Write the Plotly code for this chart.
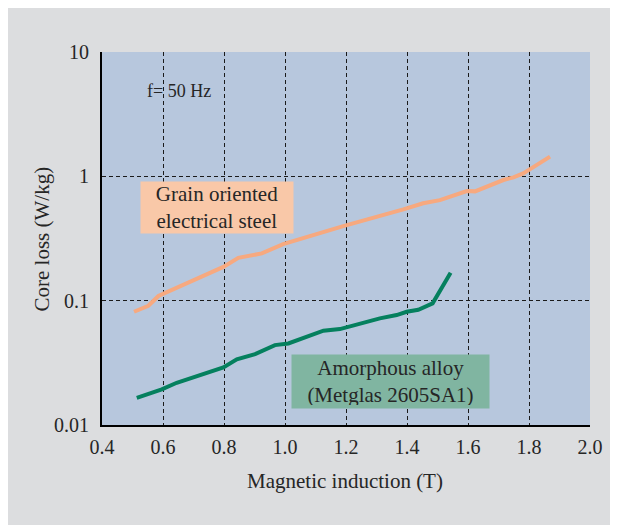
import plotly.graph_objects as go

steel_b = [0.505, 0.552, 0.585, 0.798, 0.847, 0.924, 0.994, 1.191, 1.388, 1.453, 1.508, 1.596, 1.623, 1.716, 1.749, 1.781, 1.869]
steel_loss = [0.0814, 0.091, 0.109, 0.187, 0.221, 0.240, 0.285, 0.398, 0.543, 0.607, 0.644, 0.762, 0.757, 0.934, 0.982, 1.057, 1.44]

amorph_b = [0.514, 0.596, 0.645, 0.798, 0.842, 0.902, 0.967, 1.011, 1.126, 1.180, 1.311, 1.366, 1.399, 1.437, 1.484, 1.543]
amorph_loss = [0.01655, 0.01932, 0.02186, 0.0290, 0.0337, 0.0372, 0.0439, 0.0453, 0.0573, 0.0591, 0.0721, 0.0766, 0.0814, 0.0845, 0.0951, 0.1676]

x_ticks = [0.4, 0.6, 0.8, 1.0, 1.2, 1.4, 1.6, 1.8, 2.0]
x_tick_labels = ["0.4", "0.6", "0.8", "1.0", "1.2", "1.4", "1.6", "1.8", "2.0"]
y_ticks = [0.01, 0.1, 1, 10]
y_tick_labels = ["0.01", "0.1", "1", "10"]

FONT = "Liberation Serif"
TXT = "#262626"

fig = go.Figure()
fig.add_trace(go.Scatter(x=steel_b, y=steel_loss, mode="lines",
                         line=dict(color="#f7a97f", width=4), showlegend=False))
fig.add_trace(go.Scatter(x=amorph_b, y=amorph_loss, mode="lines",
                         line=dict(color="#05805e", width=4), showlegend=False))

# label boxes
fig.add_annotation(xref="paper", yref="paper", x=(217 - 102) / 488, y=(425 - 207.5) / 373,
                   xanchor="center", yanchor="middle",
                   text="Grain oriented<br>electrical steel", showarrow=False,
                   font=dict(family=FONT, size=21, color=TXT), bgcolor="#f9c8a8",
                   width=146, height=45, borderpad=3, align="center")
fig.add_annotation(xref="paper", yref="paper", x=(390.5 - 102) / 488, y=(425 - 381.5) / 373,
                   xanchor="center", yanchor="middle",
                   text="Amorphous alloy<br>(Metglas 2605SA1)", showarrow=False,
                   font=dict(family=FONT, size=21, color=TXT), bgcolor="#80b5a1",
                   width=191, height=47, borderpad=3, align="center")
fig.add_annotation(xref="paper", yref="paper", x=(145 - 102) / 488, y=(425 - 91) / 373,
                   xanchor="left", yanchor="middle", text="f= 50 Hz", showarrow=False,
                   font=dict(family=FONT, size=18, color=TXT))

# axis titles
fig.add_annotation(xref="paper", yref="paper", x=0.497, y=-0.150, showarrow=False,
                   xanchor="center", yanchor="middle",
                   text="Magnetic induction (T)", font=dict(family=FONT, size=21, color=TXT))
fig.add_annotation(xref="paper", yref="paper", x=-0.123, y=0.5, showarrow=False, textangle=-90,
                   xanchor="center", yanchor="middle",
                   text="Core loss (W/kg)", font=dict(family=FONT, size=21, color=TXT))

fig.update_xaxes(range=[0.4, 2.0], tickvals=x_ticks, ticktext=x_tick_labels,
                 showline=True, linecolor="black", linewidth=2, mirror=False,
                 showgrid=True, gridcolor="#1a1a1a", gridwidth=1, griddash="4px,3px",
                 zeroline=False, ticks="", ticklabelstandoff=3,
                 tickfont=dict(family=FONT, size=20, color=TXT))
fig.update_yaxes(type="log", range=[-2, 1], tickvals=y_ticks, ticktext=y_tick_labels,
                 showline=True, linecolor="black", linewidth=2, mirror=False,
                 showgrid=True, gridcolor="#1a1a1a", gridwidth=1, griddash="4px,3px",
                 zeroline=False, ticks="", ticklabelstandoff=7,
                 tickfont=dict(family=FONT, size=20, color=TXT))

fig.update_layout(width=610, height=517,
                  margin=dict(l=94, r=28, t=44, b=100, autoexpand=False),
                  paper_bgcolor="#dcdddf", plot_bgcolor="#b7c7dd",
                  showlegend=False)

fig.write_html("out.html")
